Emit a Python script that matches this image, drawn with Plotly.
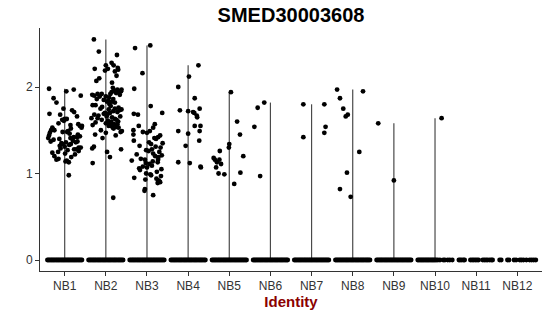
import plotly.graph_objects as go

categories = ["NB1", "NB2", "NB3", "NB4", "NB5", "NB6", "NB7", "NB8", "NB9", "NB10", "NB11", "NB12"]
y_ticks = [0, 1, 2]
title_text = "SMED30003608"
x_title = "Identity"

# Non-zero expression values and their horizontal jitter (category units)
vals_nb1 = [1.98, 1.87, 1.82, 1.95, 1.97, 1.90, 1.69, 1.68, 1.75, 1.73, 1.71, 1.66, 1.63, 1.63, 1.61,
            1.58, 1.55, 1.53, 1.53, 1.52, 1.50, 1.50, 1.49, 1.48, 1.47, 1.46, 1.44, 1.42, 1.41, 1.40,
            1.38, 1.37, 1.36, 1.36, 1.35, 1.33, 1.32, 1.31, 1.30, 1.29, 1.28, 1.27, 1.26, 1.25, 1.24,
            1.22, 1.20, 1.19, 1.17, 1.16, 1.15, 1.14, 1.13, 0.98, 1.57, 1.55, 1.51, 1.45, 1.43, 1.41,
            1.39, 1.37, 1.34, 1.28, 1.30, 1.62, 1.48, 1.56, 1.42, 1.34, 1.23]
jit_nb1 = [-0.38, -0.27, -0.20, 0.04, 0.22, 0.39, -0.37, -0.11, -0.03, 0.18, 0.23, 0.30, 0.00, 0.05, -0.02,
           -0.15, 0.37, 0.41, -0.30, 0.15, -0.33, -0.25, 0.08, -0.05, -0.36, 0.12, -0.38, 0.30, -0.40, -0.13,
           0.20, -0.34, 0.03, 0.27, -0.08, 0.11, -0.12, 0.00, 0.39, -0.10, 0.23, 0.07, 0.34, -0.16, -0.30,
           0.25, -0.25, 0.16, -0.15, -0.20, 0.05, 0.02, 0.10, 0.10, 0.33, 0.42, -0.28, 0.32, 0.37, 0.14,
           -0.27, 0.31, -0.05, 0.28, 0.34, -0.06, 0.06, 0.14, 0.22, 0.15, 0.01]

vals_nb2 = [2.55, 2.41, 2.21, 2.10, 2.07, 2.25, 2.19, 2.21, 2.28, 2.25, 2.37, 2.22, 2.20, 2.05, 1.97,
            1.95, 1.93, 1.91, 1.90, 1.92, 1.92, 1.89, 1.88, 1.86, 1.85, 1.83, 1.82, 1.79, 1.79, 1.78,
            1.76, 1.75, 1.74, 1.72, 1.71, 1.70, 1.69, 1.68, 1.67, 1.66, 1.65, 1.64, 1.63, 1.62, 1.61,
            1.60, 1.59, 1.58, 1.57, 1.56, 1.55, 1.54, 1.53, 1.52, 1.50, 1.49, 1.48, 1.47, 1.45, 1.44,
            1.41, 1.31, 1.29, 1.28, 1.25, 1.19, 1.12, 0.72, 1.73, 1.95, 1.97, 1.94, 1.89, 1.83, 1.75,
            1.62, 1.58, 1.55, 1.60, 1.70, 1.80, 1.86, 1.64, 1.96, 2.18, 2.13, 1.99, 1.91, 1.74, 1.66,
            1.57, 1.53, 1.69, 1.77, 1.84, 1.92]
jit_nb2 = [-0.29, -0.17, -0.27, -0.16, -0.23, 0.00, -0.02, 0.05, 0.14, 0.19, 0.27, 0.29, 0.30, 0.15, 0.38,
           0.37, 0.25, -0.33, -0.28, -0.20, -0.10, 0.00, 0.08, 0.18, -0.05, 0.03, 0.22, -0.32, -0.25, 0.12,
           0.31, -0.13, 0.07, 0.18, 0.28, 0.10, -0.05, -0.28, -0.18, 0.02, 0.15, -0.20, 0.22, -0.10, 0.05,
           0.30, -0.25, 0.10, 0.20, -0.32, 0.12, 0.26, 0.17, 0.19, -0.12, 0.39, 0.36, 0.00, -0.26, 0.24,
           -0.08, -0.29, -0.33, 0.37, 0.03, 0.10, -0.32, 0.18, 0.33, 0.32, 0.28, 0.14, -0.15, 0.15, 0.22,
           0.26, 0.00, 0.07, 0.13, -0.02, 0.09, -0.22, -0.35, 0.20, 0.22, 0.26, 0.17, 0.34, 0.38, 0.35,
           0.28, 0.31, 0.05, -0.09, 0.06, 0.11]

vals_nb3 = [2.48, 2.45, 2.16, 1.98, 1.78, 1.70, 1.69, 1.68, 1.55, 1.57, 1.53, 1.50, 1.49, 1.48, 1.47,
            1.45, 1.42, 1.41, 1.40, 1.38, 1.36, 1.34, 1.31, 1.30, 1.28, 1.27, 1.25, 1.23, 1.21, 1.19,
            1.17, 1.16, 1.15, 1.14, 1.13, 1.12, 1.11, 1.09, 1.08, 1.06, 1.05, 1.04, 1.02, 0.99, 0.98,
            0.97, 0.95, 0.94, 0.93, 0.92, 0.91, 0.90, 0.89, 0.82, 0.80, 0.75, 1.35, 1.44, 1.26, 1.20,
            1.07, 1.16, 1.32, 1.22, 1.00]
jit_nb3 = [0.08, -0.29, -0.11, -0.31, 0.09, 0.37, -0.32, -0.22, -0.20, 0.19, 0.15, -0.33, 0.07, -0.10, 0.00,
           -0.33, 0.27, 0.18, 0.22, -0.32, 0.05, 0.10, 0.21, 0.33, 0.12, -0.02, 0.30, 0.15, 0.36, 0.28,
           -0.15, -0.05, -0.37, 0.14, 0.26, -0.03, 0.06, 0.12, -0.10, -0.19, 0.35, -0.17, 0.24, 0.08, 0.10,
           0.34, -0.31, 0.23, -0.04, 0.28, 0.30, 0.32, 0.26, -0.05, -0.06, 0.15, 0.38, 0.32, 0.04, 0.20,
           0.00, 0.27, -0.18, -0.25, -0.02]

vals_nb4 = [2.25, 2.12, 2.00, 1.87, 1.75, 1.73, 1.72, 1.71, 1.70, 1.67, 1.65, 1.55, 1.55, 1.49, 1.49,
            1.46, 1.38, 1.32, 1.13, 1.12, 1.08, 1.07]
jit_nb4 = [0.25, 0.02, -0.24, 0.16, 0.28, -0.20, 0.00, 0.12, 0.15, 0.21, 0.22, 0.16, 0.30, -0.24, 0.28,
           0.00, 0.27, -0.06, -0.24, 0.04, 0.30, 0.31]

vals_nb5 = [1.94, 1.60, 1.45, 1.34, 1.30, 1.26, 1.20, 1.18, 1.16, 1.16, 1.13, 1.11, 1.07, 1.01, 1.00,
            0.99, 0.88]
jit_nb5 = [0.04, 0.19, 0.26, 0.00, -0.01, -0.23, 0.34, -0.38, -0.35, -0.24, -0.30, -0.20, -0.32, 0.27, -0.26,
           -0.12, 0.12]

vals_nb6 = [1.82, 1.76, 1.54, 0.97]
jit_nb6 = [-0.15, -0.31, -0.39, -0.25]

vals_nb7 = [1.80, 1.80, 1.54, 1.47, 1.42]
jit_nb7 = [-0.20, 0.31, 0.34, 0.31, -0.20]

vals_nb8 = [1.97, 1.95, 1.87, 1.75, 1.68, 1.66, 1.25, 1.01, 0.82, 0.73]
jit_nb8 = [-0.38, 0.25, -0.31, -0.23, -0.12, -0.17, 0.16, -0.14, -0.31, -0.05]

vals_nb9 = [1.58, 0.92]
jit_nb9 = [-0.38, 0.00]

vals_nb10 = [1.64]
jit_nb10 = [0.16]

vals_nb11 = []
jit_nb11 = []

vals_nb12 = []
jit_nb12 = []

# Zero-expression cells: horizontal jitter of the zero points per group
zero_jit_dense = [-0.42, -0.39, -0.36, -0.33, -0.30, -0.27, -0.24, -0.21, -0.18, -0.15, -0.12, -0.09,
                  -0.06, -0.03, 0.00, 0.03, 0.06, 0.09, 0.12, 0.15, 0.18, 0.21, 0.24, 0.27, 0.30,
                  0.33, 0.36, 0.39, 0.42]
zero_jit_nb10 = [-0.42, -0.39, -0.36, -0.33, -0.30, -0.27, -0.24, -0.21, -0.18, -0.15, -0.12, -0.09,
                 -0.06, -0.03, 0.00, 0.03, 0.07, 0.12, 0.20, 0.24, 0.31, 0.36, 0.42]
zero_jit_nb11 = [-0.42, -0.39, -0.35, -0.31, -0.28, -0.14, -0.10, -0.06, -0.02, 0.02, 0.06,
                 0.16, 0.20, 0.24, 0.28, 0.33, 0.37, 0.40]
zero_jit_nb12 = [-0.43, -0.39, -0.24, -0.20, -0.08, -0.03, 0.06, 0.10, 0.15, 0.22, 0.30, 0.35, 0.40, 0.45]

group_vals = [vals_nb1, vals_nb2, vals_nb3, vals_nb4, vals_nb5, vals_nb6,
              vals_nb7, vals_nb8, vals_nb9, vals_nb10, vals_nb11, vals_nb12]
group_jit = [jit_nb1, jit_nb2, jit_nb3, jit_nb4, jit_nb5, jit_nb6,
             jit_nb7, jit_nb8, jit_nb9, jit_nb10, jit_nb11, jit_nb12]
group_zero_jit = [zero_jit_dense] * 9 + [zero_jit_nb10, zero_jit_nb11, zero_jit_nb12]

# Violin "spines": from 0 up to the group maximum
vx, vy = [], []
for i, vals in enumerate(group_vals):
    pos = i + 1
    top = max([0] + vals)
    if top > 0:
        vx += [pos, pos, None]
        vy += [0, top, None]

px, py = [], []
for i in range(len(categories)):
    pos = i + 1
    for j in group_zero_jit[i]:
        px.append(pos + j)
        py.append(0)
    for v, j in zip(group_vals[i], group_jit[i]):
        px.append(pos + j)
        py.append(v)

fig = go.Figure()
fig.add_trace(go.Scatter(x=vx, y=vy, mode="lines",
                         line=dict(color="#4a4a4a", width=1.2),
                         hoverinfo="skip", showlegend=False))
fig.add_trace(go.Scatter(x=px, y=py, mode="markers",
                         marker=dict(color="black", size=4.8, line=dict(width=0)),
                         showlegend=False))

font_family = "Liberation Sans, Arial, Helvetica, sans-serif"
fig.update_layout(
    width=550, height=316,
    margin=dict(l=40, r=8, t=28, b=45),
    paper_bgcolor="white", plot_bgcolor="white",
    font=dict(family=font_family, color="#333333"),
    title=dict(text="<b>" + title_text + "</b>", x=(40 + 542) / 2 / 550, xanchor="center",
               y=1 - 15 / 316, yanchor="middle",
               font=dict(size=20, color="black", family=font_family)),
    showlegend=False,
)
fig.update_xaxes(
    range=[0.4, 12.6], tickmode="array", tickvals=list(range(1, len(categories) + 1)),
    ticktext=categories, showgrid=False, zeroline=False,
    showline=True, linecolor="#333333", linewidth=1,
    ticks="outside", ticklen=4, tickcolor="#333333", tickwidth=1,
    tickfont=dict(size=12, color="#333333"),
    title=dict(text="<b>" + x_title + "</b>", font=dict(size=15, color="#8B0000"), standoff=3),
)
fig.update_yaxes(
    range=[-0.127, 2.682], tickmode="array", tickvals=y_ticks,
    ticktext=[str(t) for t in y_ticks], showgrid=False, zeroline=False,
    showline=True, linecolor="#333333", linewidth=1,
    ticks="outside", ticklen=4, tickcolor="#333333", tickwidth=1,
    tickfont=dict(size=12, color="#333333"),
)

fig.write_html("out.html")
